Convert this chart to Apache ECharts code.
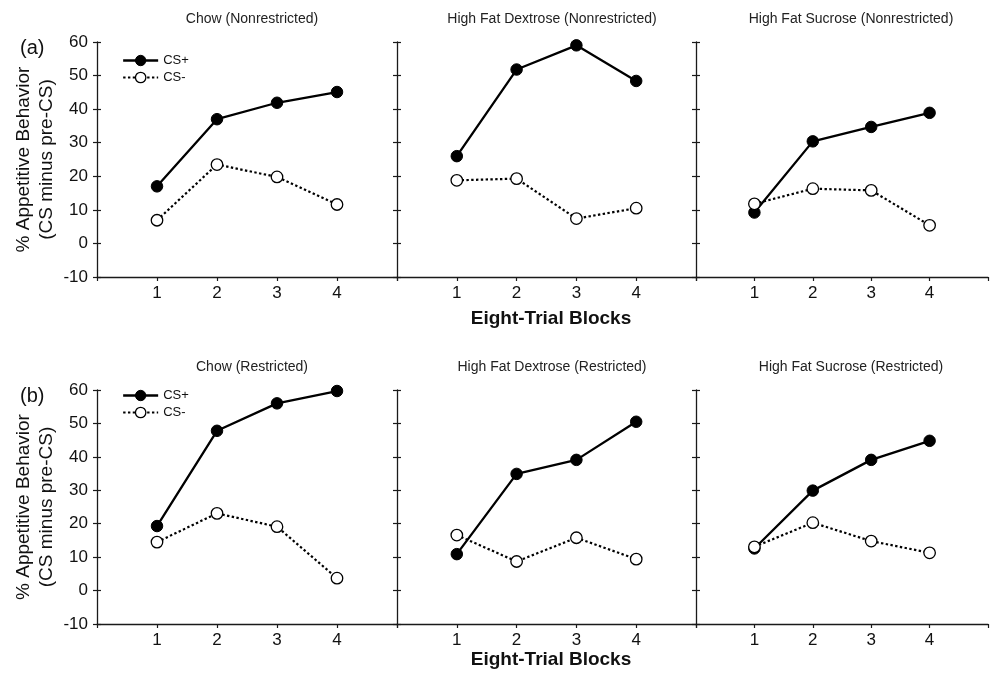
<!DOCTYPE html>
<html>
<head>
<meta charset="utf-8">
<style>
html,body{margin:0;padding:0;background:#fff;}
#chart{width:991px;height:680px;}
</style>
<script src="https://cdn.jsdelivr.net/npm/echarts@6/dist/echarts.min.js"></script>
</head>
<body>
<div id="chart"></div>
<script>
// ---- data ----
const blocks = [1, 2, 3, 4];
const panelTitles = [
  'Chow (Nonrestricted)', 'High Fat Dextrose (Nonrestricted)', 'High Fat Sucrose (Nonrestricted)',
  'Chow (Restricted)', 'High Fat Dextrose (Restricted)', 'High Fat Sucrose (Restricted)'
];
const seriesNames = ['CS+', 'CS-'];
const chowNR_plus  = [17.0, 37.0, 41.9, 45.1];
const chowNR_minus = [6.9, 23.5, 19.8, 11.6];
const hfdNR_plus   = [26.0, 51.8, 59.0, 48.4];
const hfdNR_minus  = [18.8, 19.3, 7.4, 10.5];
const hfsNR_plus   = [9.2, 30.4, 34.7, 38.9];
const hfsNR_minus  = [11.8, 16.3, 15.8, 5.4];
const chowR_plus   = [19.3, 47.8, 56.0, 59.7];
const chowR_minus  = [14.5, 23.1, 19.1, 3.7];
const hfdR_plus    = [10.9, 34.9, 39.1, 50.5];
const hfdR_minus   = [16.6, 8.7, 15.8, 9.4];
const hfsR_plus    = [12.6, 29.9, 39.1, 44.8];
const hfsR_minus   = [13.1, 20.3, 14.8, 11.3];
const yAxisTitle = '% Appetitive Behavior\n(CS minus pre-CS)';
const xAxisTitle = 'Eight-Trial Blocks';
const rowLabels = ['(a)', '(b)'];

const panelData = [
  [chowNR_plus, chowNR_minus], [hfdNR_plus, hfdNR_minus], [hfsNR_plus, hfsNR_minus],
  [chowR_plus, chowR_minus], [hfdR_plus, hfdR_minus], [hfsR_plus, hfsR_minus]
];

// ---- layout ----
const FONT = '"Liberation Sans", Arial, sans-serif';
const lefts = [97, 397, 696];
const widths = [300, 299, 300];
const tops = [42, 390];
const heights = [235, 234];

const grids = [], xAxes = [], yAxes = [], series = [], titles = [];
for (let p = 0; p < 6; p++) {
  const r = Math.floor(p / 3), c = p % 3;
  grids.push({left: lefts[c], top: tops[r], width: widths[c], height: heights[r], containLabel: false});
  xAxes.push({
    type: 'value', gridIndex: p, min: 0, max: 5, interval: 1,
    axisLine: {show: true, onZero: false, lineStyle: {color: '#1a1a1a', width: 1.3}},
    axisTick: {show: true, length: 4, lineStyle: {color: '#1a1a1a', width: 1.2}},
    axisLabel: {show: true, fontSize: 17, color: '#111', fontFamily: FONT, margin: 8,
      formatter: v => (blocks.indexOf(v) >= 0 ? String(v) : '')},
    splitLine: {show: false}
  });
  const showLab = (c === 0);
  yAxes.push({
    type: 'value', gridIndex: p, min: -10, max: 60, interval: 10, position: 'left',
    axisLine: {show: true, onZero: false, lineStyle: {color: '#1a1a1a', width: 1.3}},
    axisTick: {show: true, inside: false, length: 4, lineStyle: {color: '#1a1a1a', width: 1.2}},
    axisLabel: {show: showLab, fontSize: 17, color: '#111', fontFamily: FONT, margin: 9},
    splitLine: {show: false},
    name: showLab ? yAxisTitle : '',
    nameLocation: 'middle', nameRotate: 90, nameGap: 39,
    nameTextStyle: {fontSize: 19, color: '#111', fontFamily: FONT, lineHeight: 23}
  });
  yAxes.push({
    type: 'value', gridIndex: p, min: -10, max: 60, interval: 10, position: 'left', offset: 0,
    axisLine: {show: false, onZero: false},
    axisTick: {show: true, inside: true, length: 4, lineStyle: {color: '#1a1a1a', width: 1.2}},
    axisLabel: {show: false}, splitLine: {show: false}
  });
  const [plus, minus] = panelData[p];
  series.push({
    name: seriesNames[0], type: 'line', xAxisIndex: p, yAxisIndex: 2 * p, z: 2,
    data: blocks.map((b, i) => [b, plus[i]]),
    symbol: 'circle', symbolSize: 11.5,
    itemStyle: {color: '#000', borderColor: '#000', borderWidth: 1},
    lineStyle: {color: '#000', width: 2.3, type: 'solid'},
    emphasis: {disabled: true}, animation: false
  });
  series.push({
    name: seriesNames[1], type: 'line', xAxisIndex: p, yAxisIndex: 2 * p, z: 3,
    data: blocks.map((b, i) => [b, minus[i]]),
    symbol: 'circle', symbolSize: 11.5,
    itemStyle: {color: '#fff', borderColor: '#000', borderWidth: 1.3},
    lineStyle: {color: '#000', width: 2.2, type: [2.4, 2.4]},
    emphasis: {disabled: true}, animation: false
  });
  titles.push({
    text: panelTitles[p], left: lefts[c] + 150, top: tops[r] - 35, textAlign: 'center',
    textStyle: {fontSize: 14, fontWeight: 'normal', color: '#222', fontFamily: FONT}
  });
}
// x-axis titles and row labels
titles.push({text: xAxisTitle, left: 546, top: 304, textAlign: 'center',
  textStyle: {fontSize: 19, fontWeight: 'bold', color: '#111', fontFamily: FONT}});
titles.push({text: xAxisTitle, left: 546, top: 645, textAlign: 'center',
  textStyle: {fontSize: 19, fontWeight: 'bold', color: '#111', fontFamily: FONT}});
titles.push({text: rowLabels[0], left: 15, top: 33,
  textStyle: {fontSize: 20, fontWeight: 'normal', color: '#111', fontFamily: FONT}});
titles.push({text: rowLabels[1], left: 15, top: 381,
  textStyle: {fontSize: 20, fontWeight: 'normal', color: '#111', fontFamily: FONT}});

const legendItems = [
  {name: seriesNames[0], itemStyle: {color: '#000', borderColor: '#000', borderWidth: 1},
   lineStyle: {color: '#000', width: 2.3, type: 'solid'}},
  {name: seriesNames[1], itemStyle: {color: '#fff', borderColor: '#000', borderWidth: 1.3},
   lineStyle: {color: '#000', width: 2.2, type: [2.4, 2.4]}}
];
const legendBase = {
  data: legendItems, orient: 'vertical', left: 122, itemWidth: 35, itemHeight: 13, itemGap: 4,
  textStyle: {fontSize: 13, color: '#111', fontFamily: FONT},
  padding: 0, selectedMode: false
};
const option = {
  backgroundColor: '#fff',
  animation: false,
  title: titles,
  grid: grids, xAxis: xAxes, yAxis: yAxes, series: series,
  legend: [
    Object.assign({}, legendBase, {top: 54}),
    Object.assign({}, legendBase, {top: 389})
  ]
};
const chart = echarts.init(document.getElementById('chart'), null, {renderer: 'canvas'});
chart.setOption(option);
</script>
</body>
</html>
